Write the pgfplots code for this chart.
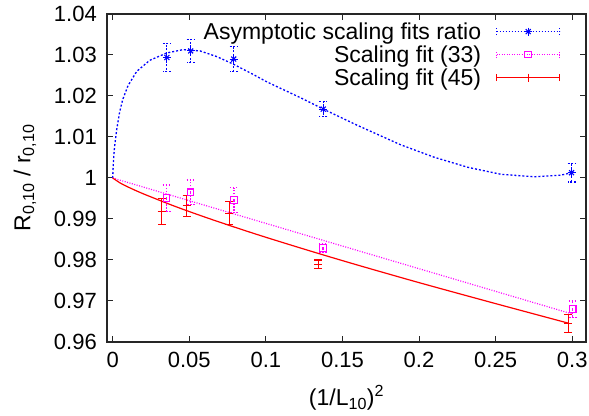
\documentclass[border=0pt]{standalone}
\usepackage{fontspec}
\setmainfont{Liberation Sans}
\usepackage{pgfplots}
\pgfplotsset{compat=1.18}
\usetikzlibrary{calc}
\definecolor{gblue}{RGB}{0,0,255}
\definecolor{gmag}{RGB}{255,0,255}
\definecolor{gred}{RGB}{255,0,0}

\pgfplotstableread{
x y e
0.0354 1.0294 0.0034
0.0509 1.0310 0.0028
0.0790 1.0290 0.0030
0.1375 1.0168 0.0018
0.2996 1.0013 0.0023
}\bluedata
\pgfplotstableread{
x y e
0.0352 0.9951 0.0032
0.0509 0.9965 0.0030
0.0792 0.9946 0.0030
0.1373 0.9829 0.0010
0.3003 0.9680 0.0020
}\magdata
\pgfplotstableread{
x y e
0.0320 0.9918 0.0032
0.0483 0.9932 0.0025
0.0761 0.9914 0.0028
0.1342 0.9790 0.0010
0.2974 0.9646 0.0022
}\reddata

\begin{document}
\begin{tikzpicture}
\begin{axis}[
  scale only axis, width=479bp, height=328bp,
  xmin=-0.0037, xmax=0.309, ymin=0.96, ymax=1.04,
  xtick={0,0.05,0.1,0.15,0.2,0.25,0.3},
  ytick={0.96,0.97,0.98,0.99,1,1.01,1.02,1.03,1.04},
  scaled ticks=false,
  /pgf/number format/assume math mode=true,
  /pgf/number format/fixed,
  /pgf/number format/precision=2,
  tick align=inside, major tick length=6bp,
  axis line style={line width=1.2bp, black!85},
  tick style={line width=1bp, black!85},
  tick label style={font=\fontsize{22bp}{24bp}\selectfont},
  xticklabel style={inner sep=0pt, yshift=-10bp},
  yticklabel style={inner sep=0pt, xshift=-10bp},
  xlabel={(1/L\textsubscript{10})\textsuperscript{2}},
  ylabel={R\textsubscript{0,10} / r\textsubscript{0,10}},
  label style={font=\fontsize{23bp}{26bp}\selectfont},
  xlabel style={at={($(axis description cs:0.5,0)+(0,-56bp)$)}, anchor=center},
  ylabel style={at={($(axis description cs:0,0.5)+(-82bp,0)$)}, anchor=center},
  legend plot pos=right,
  legend style={draw=none, fill=none, at={(0.953,0.982)}, anchor=north east,
    font=\fontsize{23bp}{26bp}\selectfont,
    nodes={inner sep=1bp, text height=16bp, text depth=5bp},
    column sep=14bp, row sep=0pt},
  legend cell align=right,
]
% fit curves
\addplot[draw=gblue, dash pattern=on 2bp off 2bp, line width=1.3bp, forget plot] coordinates {
(0,1.0000) (0.0005,1.0040) (0.0012,1.0075) (0.0026,1.0117) (0.0045,1.0160) (0.0066,1.0192) (0.0100,1.0225) (0.0157,1.0260) (0.0242,1.0287)
(0.0354,1.0305) (0.0459,1.0313) (0.0570,1.0310) (0.0680,1.0296) (0.0786,1.0278) (0.0900,1.0256) (0.1009,1.0234)
(0.1225,1.0196) (0.1375,1.0168) (0.1600,1.0128) (0.1880,1.0081) (0.2096,1.0051)
(0.2319,1.0026) (0.2535,1.0009) (0.2751,1.0003) (0.2928,1.0007) (0.2996,1.0013)};
\addplot[draw=gmag, dash pattern=on 1bp off 1.5bp, line width=1.2bp, forget plot] coordinates {
(0,1.0000) (0.1500,0.9834) (0.3003,0.9668)};
\addplot[draw=gred, line width=1.2bp, smooth, forget plot] coordinates {
(0,1.0000) (0.005,0.99876) (0.01,0.99781) (0.02,0.99614) (0.04,0.99318) (0.06,0.99049)
(0.08,0.98796) (0.10,0.98554) (0.13,0.98208) (0.16,0.97875) (0.20,0.97448)
(0.25,0.96936) (0.2974,0.9646)};
% data points
\addplot[color=gblue, only marks, mark=+, mark size=4bp, mark options={draw=gblue, solid, line width=1.1bp}, forget plot,
  error bars/.cd, y dir=both, y explicit,
  error bar style={draw=gblue, line width=1.2bp, dash pattern=on 2bp off 1.5bp},
  error mark options={draw=gblue, line width=1.2bp, mark size=4bp, rotate=90, dash pattern=on 2bp off 1.5bp}]
  table[x=x, y=y, y error=e] {\bluedata};
\addplot[color=gblue, only marks, mark=x, mark size=3.5bp, mark options={draw=gblue, solid, line width=1.1bp}, forget plot]
  table[x=x, y=y] {\bluedata};
\addplot[color=gmag, only marks, mark=square, mark size=3.3bp, mark options={draw=gmag, solid, line width=1.1bp}, forget plot,
  error bars/.cd, y dir=both, y explicit,
  error bar style={draw=gmag, line width=1.2bp, dash pattern=on 1.5bp off 1.5bp},
  error mark options={draw=gmag, line width=1.2bp, mark size=4bp, rotate=90, dash pattern=on 1.5bp off 1.5bp}]
  table[x=x, y=y, y error=e] {\magdata};
\addplot[color=gred, only marks, mark=+, mark size=4bp, mark options={draw=gred, solid, line width=1.1bp}, forget plot,
  error bars/.cd, y dir=both, y explicit,
  error bar style={draw=gred, line width=1.2bp},
  error mark options={draw=gred, line width=1.2bp, mark size=4bp, rotate=90}]
  table[x=x, y=y, y error=e] {\reddata};
% legend
\addlegendimage{legend image code/.code={
  \draw[draw=gblue, line width=1.2bp, dash pattern=on 1.5bp off 1.5bp] (0bp,2bp) -- (63bp,2bp) (0bp,-1.5bp) -- (0bp,5.5bp) (63bp,-1.5bp) -- (63bp,5.5bp);
  \begin{scope}[shift={(31.5bp,2bp)}, draw=gblue, solid, line width=1.1bp]
  \pgfsetplotmarksize{4bp}\pgfuseplotmark{+}\pgfsetplotmarksize{3.5bp}\pgfuseplotmark{x}
  \end{scope}}}
\addlegendentry{Asymptotic scaling fits ratio}
\addlegendimage{legend image code/.code={
  \draw[draw=gmag, line width=1.2bp, dash pattern=on 1bp off 1.5bp] (0bp,2bp) -- (63bp,2bp) (0bp,-1.5bp) -- (0bp,5.5bp) (63bp,-1.5bp) -- (63bp,5.5bp);
  \begin{scope}[shift={(31.5bp,2bp)}, draw=gmag, solid, line width=1.1bp]
  \pgfsetplotmarksize{3.3bp}\pgfuseplotmark{square}
  \end{scope}}}
\addlegendentry{Scaling fit (33)}
\addlegendimage{legend image code/.code={
  \draw[draw=gred, line width=1.2bp] (0bp,2bp) -- (63bp,2bp) (0bp,-1.5bp) -- (0bp,5.5bp) (63bp,-1.5bp) -- (63bp,5.5bp);
  \begin{scope}[shift={(31.5bp,2bp)}, draw=gred, solid, line width=1.1bp]
  \pgfsetplotmarksize{4bp}\pgfuseplotmark{+}
  \end{scope}}}
\addlegendentry{Scaling fit (45)}
\end{axis}
\pgfresetboundingbox
\path ($(current axis.south west)+(-107bp,-74bp)$) rectangle ($(current axis.north east)+(3bp,14bp)$);
\end{tikzpicture}
\end{document}
